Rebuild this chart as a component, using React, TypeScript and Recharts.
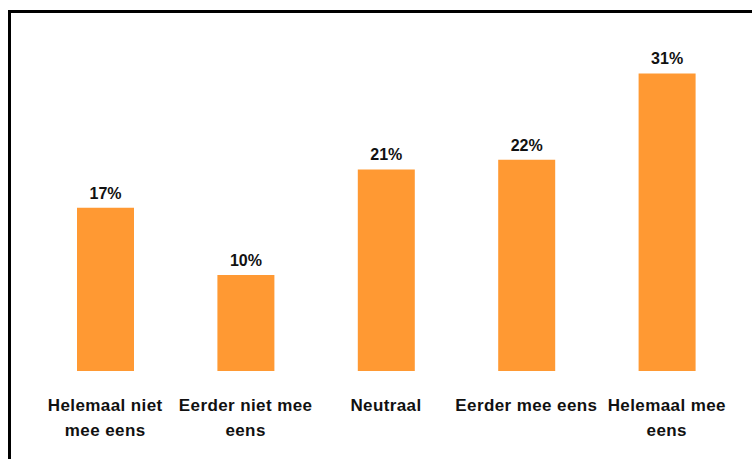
import { Bar, BarChart, LabelList, XAxis, YAxis } from "recharts";

const categories = [
  "Helemaal niet mee eens",
  "Eerder niet mee eens",
  "Neutraal",
  "Eerder mee eens",
  "Helemaal mee eens",
];
const tickLines = [
  ["Helemaal niet", "mee eens"],
  ["Eerder niet mee", "eens"],
  ["Neutraal"],
  ["Eerder mee eens"],
  ["Helemaal mee", "eens"],
];
const percentages = [17, 10, 21, 22, 31];

const data = categories.map((c, i) => ({ name: c, value: percentages[i] }));

const FONT = "'Liberation Sans', Arial, sans-serif";

function CategoryTick(props: any) {
  const { x, y, payload } = props;
  const idx = categories.indexOf(payload.value);
  const lines = idx >= 0 ? tickLines[idx] : [String(payload.value)];
  return (
    <text
      x={x}
      y={y}
      textAnchor="middle"
      fontFamily={FONT}
      fontWeight="bold"
      fontSize={17}
      letterSpacing={0.4}
      fill="#111"
    >
      {lines.map((line, i) => (
        <tspan key={i} x={x} dy={i === 0 ? 40 : 25}>
          {line}
        </tspan>
      ))}
    </text>
  );
}

export default function App() {
  return (
    <div style={{ position: "absolute", left: 0, top: 0, width: 752, height: 459, overflow: "hidden", background: "#fff" }}>
      <div
        style={{
          position: "absolute",
          left: 8,
          top: 10,
          width: 800,
          height: 500,
          borderTop: "3px solid #000",
          borderLeft: "3px solid #000",
        }}
      />
      <div style={{ position: "absolute", left: 0, top: 0 }}>
        <BarChart width={752} height={459} data={data} margin={{ top: 35, right: 15, bottom: 0, left: 35 }}>
          <XAxis
            dataKey="name"
            interval={0}
            axisLine={false}
            tickLine={false}
            tickSize={0}
            tickMargin={0}
            height={88}
            tick={<CategoryTick />}
          />
          <YAxis hide domain={[0, 35]} />
          <Bar dataKey="value" fill="#ff9933" barSize={57} isAnimationActive={false}>
            <LabelList
              dataKey="value"
              position="top"
              offset={9}
              formatter={(v: any) => `${v}%`}
              fill="#111"
              fontFamily={FONT}
              fontWeight="bold"
              fontSize={16}
            />
          </Bar>
        </BarChart>
      </div>
    </div>
  );
}
